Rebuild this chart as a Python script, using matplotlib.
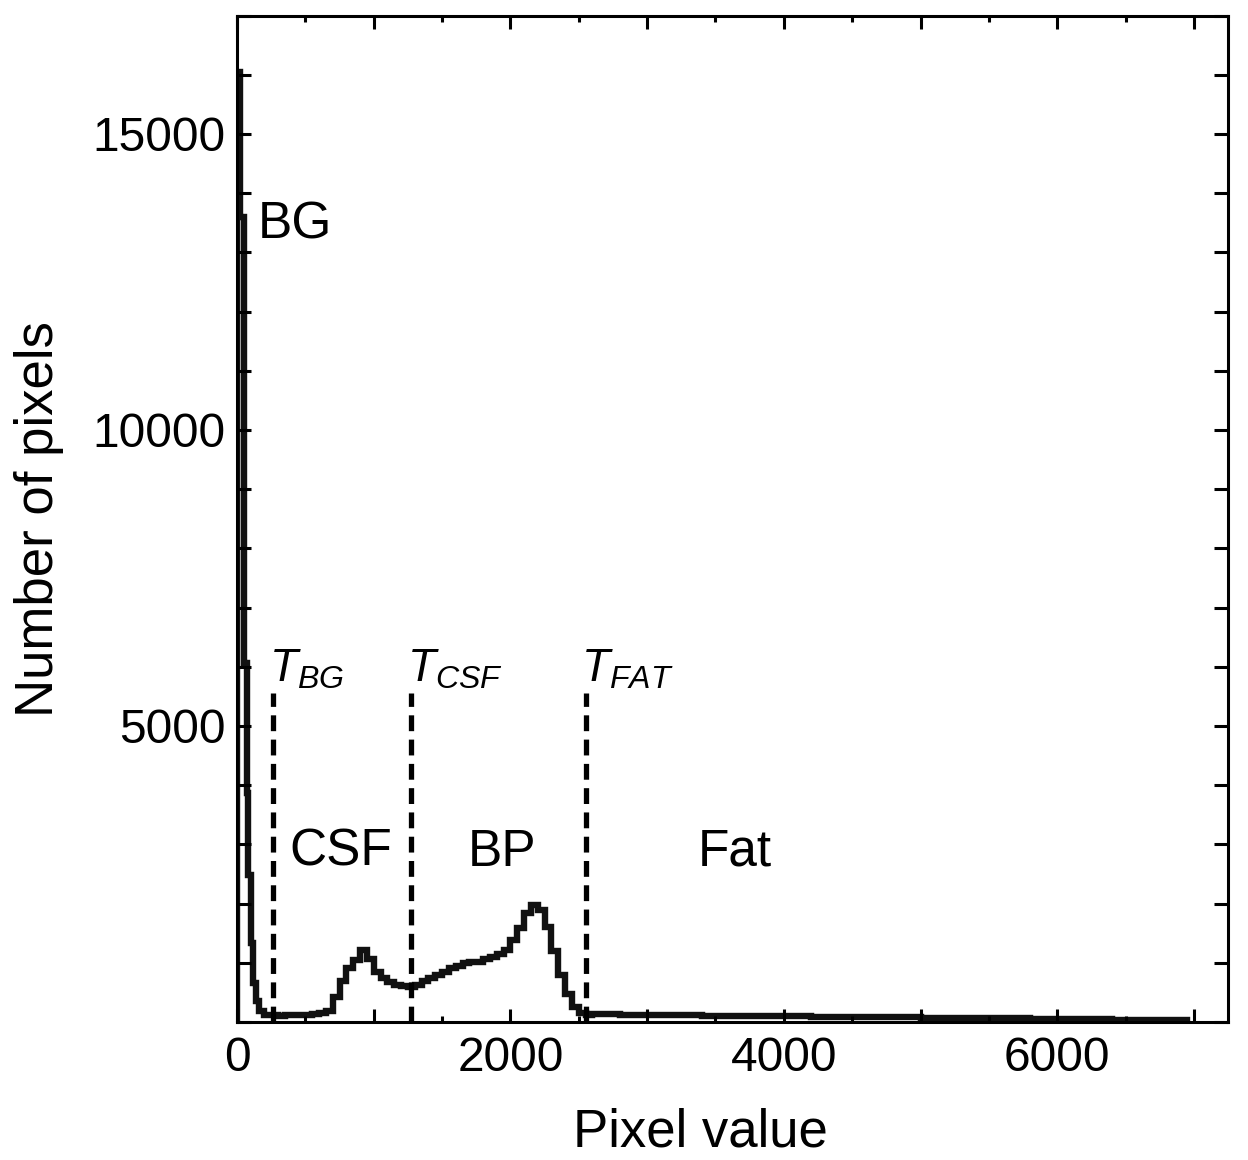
import numpy as np
import matplotlib
matplotlib.use("Agg")
from matplotlib import pyplot as plt
from matplotlib.ticker import MultipleLocator, FuncFormatter

plt.rcParams['font.family'] = ['Liberation Sans', 'DejaVu Sans']
plt.rcParams['mathtext.fontset'] = 'custom'
plt.rcParams['mathtext.rm'] = 'Liberation Sans'
plt.rcParams['mathtext.it'] = 'Liberation Sans:italic'

# histogram bins: background spike, 50-wide bins for tissue, 200-wide tail
spike_edges = [0, 22, 51, 70, 80, 102, 117, 135, 160, 200, 250]
spike_counts = [16050, 13600, 6060, 3870, 2480, 1330, 660, 350, 180, 120]

mid_edges = list(range(250, 2601, 50))
mid_counts = [110, 105, 110, 115, 120, 125, 130, 145, 190, 420,
              690, 910, 1050, 1210, 1060, 850, 740, 680, 625, 600,
              590, 625, 690, 745, 790, 850, 905, 950, 990, 1010,
              1020, 1060, 1100, 1150, 1220, 1390, 1590, 1840, 1980, 1890,
              1600, 1200, 800, 470, 250, 150, 120]

tail_edges = list(range(2600, 6801, 200)) + [6950]
tail_counts = [130, 120, 115, 110, 105, 100, 95, 95, 90, 85,
               80, 80, 75, 70, 65, 60, 55, 50, 45, 40, 35, 30]

edges = np.array(spike_edges[:-1] + mid_edges[:-1] + tail_edges)
counts = np.array(spike_counts + mid_counts + tail_counts)

thresholds = [264, 1275, 2549]
threshold_labels = [r'$T_{BG}$', r'$T_{CSF}$', r'$T_{FAT}$']
threshold_top = 5550

regions = ['BG', 'CSF', 'BP', 'Fat']
region_x = [154, 381, 1685, 3370]
region_y = [13240, 2635, 2635, 2635]

fig = plt.figure(figsize=(12.48, 11.6), dpi=100)
ax = fig.add_axes([0.19, 0.119, 0.794, 0.8676])

ax.stairs(counts, edges, color='#111111', lw=4.6)
for t in thresholds:
    ax.plot([t, t], [0, threshold_top], color='black', lw=3.8,
            ls=(0, (3.0, 1.6)), solid_capstyle='butt')
for t, lab in zip(thresholds, threshold_labels):
    ax.text(t - 32, 5743, lab, fontsize=33, ha='left', va='baseline')
for name, x, y in zip(regions, region_x, region_y):
    ax.text(x, y, name, fontsize=37, ha='left', va='baseline')

ax.set_xlim(0, 7250)
ax.set_ylim(0, 17000)
ax.xaxis.set_major_locator(MultipleLocator(1000))
ax.xaxis.set_minor_locator(MultipleLocator(500))
ax.xaxis.set_major_formatter(FuncFormatter(
    lambda v, p: '%d' % v if v % 2000 == 0 else ''))
ax.yaxis.set_major_locator(MultipleLocator(5000))
ax.yaxis.set_minor_locator(MultipleLocator(1000))
ax.yaxis.set_major_formatter(FuncFormatter(
    lambda v, p: '%d' % v if v > 0 else ''))

ax.tick_params(which='both', direction='in', top=True, right=True,
               width=2.2, labelsize=34.5)
ax.tick_params(axis='x', which='major', length=9.4, pad=10)
ax.tick_params(axis='x', which='minor', length=4.3)
ax.tick_params(axis='y', which='both', length=10, pad=8.5)
for s in ax.spines.values():
    s.set_linewidth(2.2)

ax.set_xlabel('Pixel value', fontsize=38)
ax.set_ylabel('Number of pixels', fontsize=38)
ax.xaxis.set_label_coords(0.468, -0.085)
ax.yaxis.set_label_coords(-0.175, 0.5)

fig.savefig('out.png', dpi=100)
